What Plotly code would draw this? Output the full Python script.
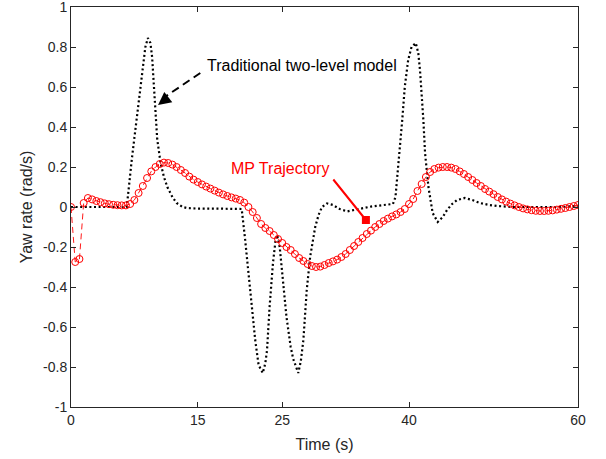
import plotly.graph_objects as go

# Traditional two-level model (black dotted)
trad_t = [0, 2, 4, 6, 6.6, 7.2, 7.8, 8.4, 8.8, 9.1, 9.4, 9.6, 9.8, 10.0, 10.2, 10.6, 11.0, 11.4, 12.0, 12.5,
          13.2, 13.7, 15, 17, 19, 20.2, 20.6, 21.2, 21.8, 22.2, 22.7, 23.0, 23.2, 23.5, 23.9, 24.2, 24.4, 24.7,
          25.0, 25.5, 26.0, 26.3, 26.9, 27.2, 27.5, 27.9, 28.3, 28.9, 29.3, 29.7, 30.3, 31.0, 31.8, 32.7, 33.5,
          34.5, 35.5, 37, 38.1, 38.4, 38.7, 39.2, 39.5, 39.9, 40.3, 40.8, 41.1, 41.3, 41.7, 41.9, 42.3, 42.8,
          43.4, 44.0, 44.5, 45.1, 45.7, 46.6, 47.5, 48.4, 49.5, 50.4, 52.3, 55, 58, 60]
trad_y = [0, 0, 0, 0, 0.0, 0.24, 0.45, 0.68, 0.8, 0.845, 0.82, 0.75, 0.6, 0.46, 0.34, 0.22, 0.15, 0.1, 0.05, 0.02,
          0.0, -0.005, -0.008, -0.008, -0.008, -0.01, -0.16, -0.415, -0.665, -0.79, -0.83, -0.78, -0.715, -0.5,
          -0.28, -0.17, -0.14, -0.2, -0.33, -0.55, -0.7, -0.76, -0.83, -0.77, -0.665, -0.415, -0.25, -0.1, -0.04,
          0.0, 0.018, 0.01, -0.01, -0.022, -0.015, -0.005, 0.002, 0.01, 0.015, 0.05, 0.185, 0.435, 0.6, 0.735,
          0.8, 0.82, 0.77, 0.685, 0.435, 0.27, 0.1, -0.03, -0.075, -0.05, -0.015, 0.015, 0.035, 0.045, 0.035,
          0.02, 0.01, 0.005, 0.0, 0.0, 0.0, 0.005]

# MP Trajectory (red dashed with circles), sampled every 0.5 s
mp_t = [i * 0.5 for i in range(121)]
mp_y = [0, -0.275, -0.26, 0.02, 0.045, 0.038, 0.03, 0.024, 0.018, 0.014,
        0.011, 0.009, 0.008, 0.008, 0.015, 0.035, 0.07, 0.105, 0.145, 0.178,
        0.2, 0.215, 0.222, 0.22, 0.212, 0.2, 0.185, 0.17, 0.152, 0.137,
        0.125, 0.113, 0.102, 0.092, 0.082, 0.072, 0.063, 0.055, 0.048, 0.042,
        0.035, 0.022, 0.0, -0.025, -0.055, -0.085, -0.105, -0.12, -0.14, -0.16,
        -0.18, -0.2, -0.215, -0.235, -0.255, -0.27, -0.285, -0.295, -0.3, -0.298,
        -0.29, -0.28, -0.272, -0.263, -0.25, -0.235, -0.215, -0.195, -0.175, -0.155,
        -0.135, -0.118, -0.1, -0.085, -0.07, -0.058, -0.047, -0.037, -0.025, -0.01,
        0.015, 0.04, 0.08, 0.115, 0.15, 0.175, 0.19, 0.197, 0.2, 0.2,
        0.197, 0.19, 0.178, 0.165, 0.15, 0.135, 0.12, 0.105, 0.09, 0.077,
        0.064, 0.05, 0.038, 0.027, 0.017, 0.008, 0.0, -0.007, -0.012, -0.016,
        -0.019, -0.02, -0.02, -0.019, -0.017, -0.013, -0.009, -0.005, 0.0, 0.005,
        0.01]

x_ticks = [0, 15, 25, 40, 60]
y_ticks = [-1, -0.8, -0.6, -0.4, -0.2, 0, 0.2, 0.4, 0.6, 0.8, 1]
y_ticktext = ["-1", "-0.8", "-0.6", "-0.4", "-0.2", "0", "0.2", "0.4", "0.6", "0.8", "1"]

FONT = "Liberation Sans, Arial, sans-serif"
AX = "#262626"

fig = go.Figure()
fig.add_trace(go.Scatter(x=trad_t, y=trad_y, mode="lines",
                         line=dict(color="black", width=2.2, dash="2px,2.6px"),
                         showlegend=False, hoverinfo="skip"))
fig.add_trace(go.Scatter(x=mp_t, y=mp_y, mode="lines+markers",
                         line=dict(color="red", width=0.9, dash="6px,4px"),
                         marker=dict(symbol="circle-open", size=7, color="red", line=dict(width=1)),
                         showlegend=False, hoverinfo="skip"))

# black dashed arrow
fig.add_shape(type="line", x0=15.3, y0=0.67, x1=11.1, y1=0.55, xref="x", yref="y",
              line=dict(color="black", width=2, dash="8px,5px"))
fig.add_annotation(x=10.3, y=0.51, ax=9, ay=-7, axref="pixel", ayref="pixel", text="",
                   showarrow=True, arrowhead=2, arrowsize=1.3, arrowwidth=2, arrowcolor="black")
fig.add_annotation(x=15.85, y=0.71, text="Traditional two-level model", showarrow=False,
                   xanchor="left", yanchor="middle", font=dict(family=FONT, size=16, color="black"))

# red arrow
fig.add_annotation(x=34.9, y=-0.065, ax=30.9, ay=0.145, axref="x", ayref="y", text="",
                   showarrow=True, arrowhead=7, arrowsize=1, arrowwidth=2, arrowcolor="red")
fig.add_annotation(x=24.7, y=0.195, text="MP Trajectory", showarrow=False,
                   xanchor="center", yanchor="middle", font=dict(family=FONT, size=16, color="red"))

axis_common = dict(showline=True, linecolor=AX, linewidth=1, mirror="ticks", ticks="inside",
                   ticklen=5, tickcolor=AX, showgrid=False, zeroline=False,
                   ticklabeloverflow="allow",
                   tickfont=dict(family=FONT, size=14, color=AX))
fig.update_xaxes(range=[0, 60], tickvals=x_ticks, ticktext=[str(v) for v in x_ticks],
                 automargin="bottom",
                 title=dict(text="Time (s)", font=dict(family=FONT, size=16, color=AX), standoff=12),
                 **axis_common)
fig.update_yaxes(range=[-1, 1], tickvals=y_ticks, ticktext=y_ticktext,
                 automargin="left",
                 title=dict(text="Yaw rate (rad/s)", font=dict(family=FONT, size=16, color=AX), standoff=6),
                 **axis_common)
fig.update_layout(width=606, height=459, margin=dict(l=71, r=28, t=7, b=52),
                  plot_bgcolor="white", paper_bgcolor="white")
fig.write_html("out.html")
